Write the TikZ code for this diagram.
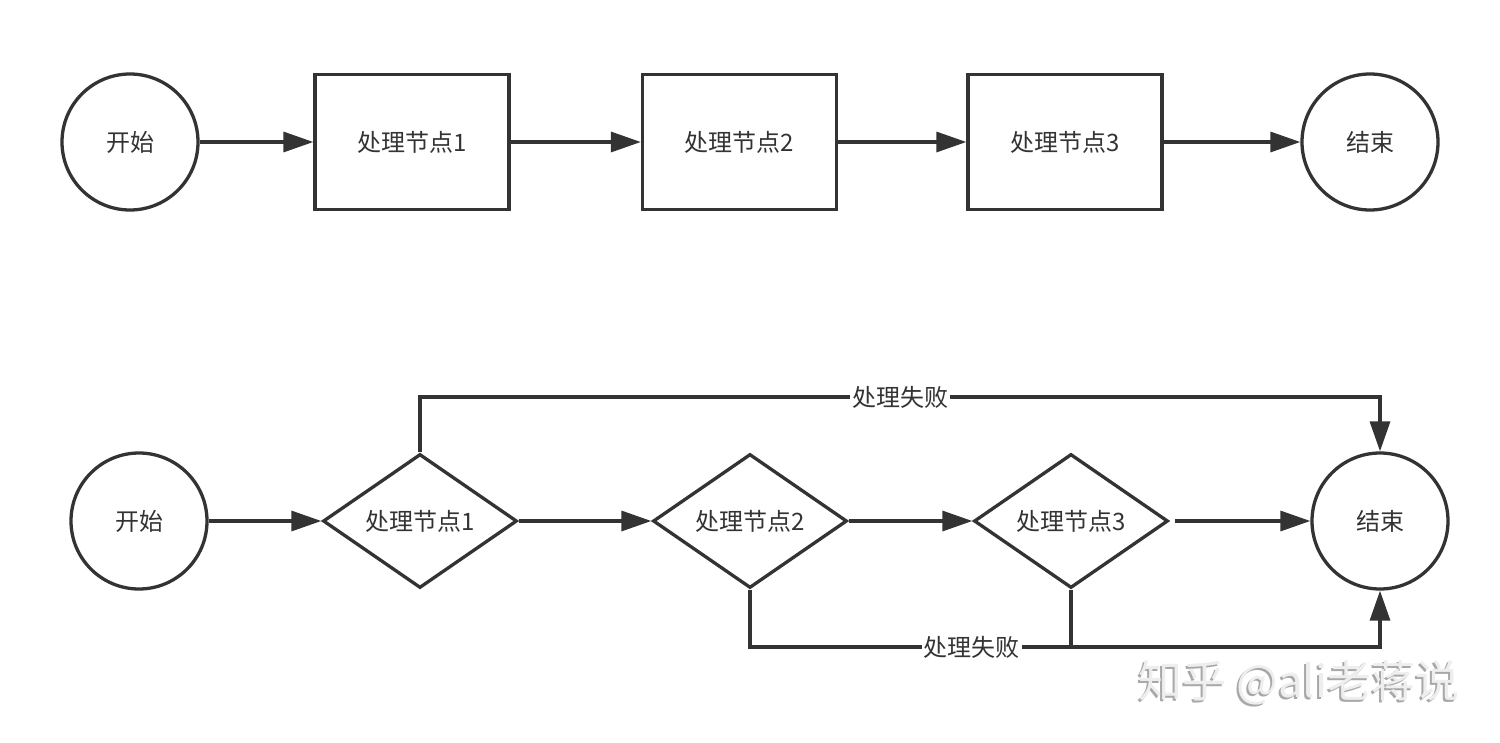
\documentclass[tikz,border=0pt]{standalone}
\usepackage{fontspec}
\setmainfont{Noto Sans CJK SC}
\usetikzlibrary{shapes.geometric,arrows.meta,calc}
\definecolor{ink}{HTML}{333333}
\definecolor{wmshadow}{HTML}{A8A8A8}
\definecolor{wmface}{HTML}{EEEEEE}
\begin{document}
\begin{tikzpicture}[x=1pt,y=-1pt,
  every node/.style={font=\fontsize{24}{28}\selectfont, text=ink},
  roundnode/.style={circle, draw=ink, line width=3.3pt, minimum size=136pt, inner sep=0pt},
  boxnode/.style={rectangle, draw=ink, line width=3.3pt, minimum width=194pt, minimum height=135pt, inner sep=0pt},
  decnode/.style={diamond, draw=ink, line width=3.3pt, minimum width=194pt, minimum height=134pt, inner sep=0pt, shape aspect=1.43},
  flow/.style={draw=ink, line width=3.3pt, -{Triangle[length=30pt,width=20pt]}},
  plain/.style={draw=ink, line width=3.3pt},
  lbl/.style={fill=white, inner sep=2pt}
]
\useasboundingbox (0,0) rectangle (1500,742);
\fill[white] (0,0) rectangle (1500,742);

% top row
\node[roundnode] (s1) at (130,142) {开始};
\node[boxnode] (p1) at (412,142) {处理节点1};
\node[boxnode] (p2) at (739.5,142) {处理节点2};
\node[boxnode] (p3) at (1065,142) {处理节点3};
\node[roundnode] (e1) at (1370,142) {结束};
\draw[flow] (s1) -- (p1);
\draw[flow] (p1) -- (p2);
\draw[flow] (p2) -- (p3);
\draw[flow] (p3) -- (e1);

% bottom row
\node[roundnode] (s2) at (139,521) {开始};
\node[decnode] (d1) at (420,521) {处理节点1};
\node[decnode] (d2) at (750,521) {处理节点2};
\node[decnode] (d3) at (1071,521) {处理节点3};
\node[roundnode] (e2) at (1380,521) {结束};
\draw[flow] (s2) -- (d1);
\draw[flow] (d1) -- (d2);
\draw[flow] (d2) -- (d3);
\draw[flow, shorten <=5pt] (d3) -- (e2);

\coordinate (f1) at (420,397);
\coordinate (f2) at (1380,397);
\draw[flow] (d1.north) -- (f1) -- node[lbl]{处理失败} (f2) -- (e2.north);

\coordinate (g1) at (750,647);
\coordinate (g2) at (1380,647);
\coordinate (g3) at (1071,647);
\draw[flow] (d2.south) -- (g1) -- node[lbl, pos=0.352]{处理失败} (g2) -- (e2.south);
\draw[plain] (d3.south) -- (g3);

% watermark
\node[font=\fontsize{44}{48}\selectfont, text=wmshadow] (wm2) at (1297,685) {知乎 @ali老蒋说};
\node[font=\fontsize{44}{48}\selectfont, text=wmface] (wm) at (1299,683) {知乎 @ali老蒋说};
\end{tikzpicture}
\end{document}
